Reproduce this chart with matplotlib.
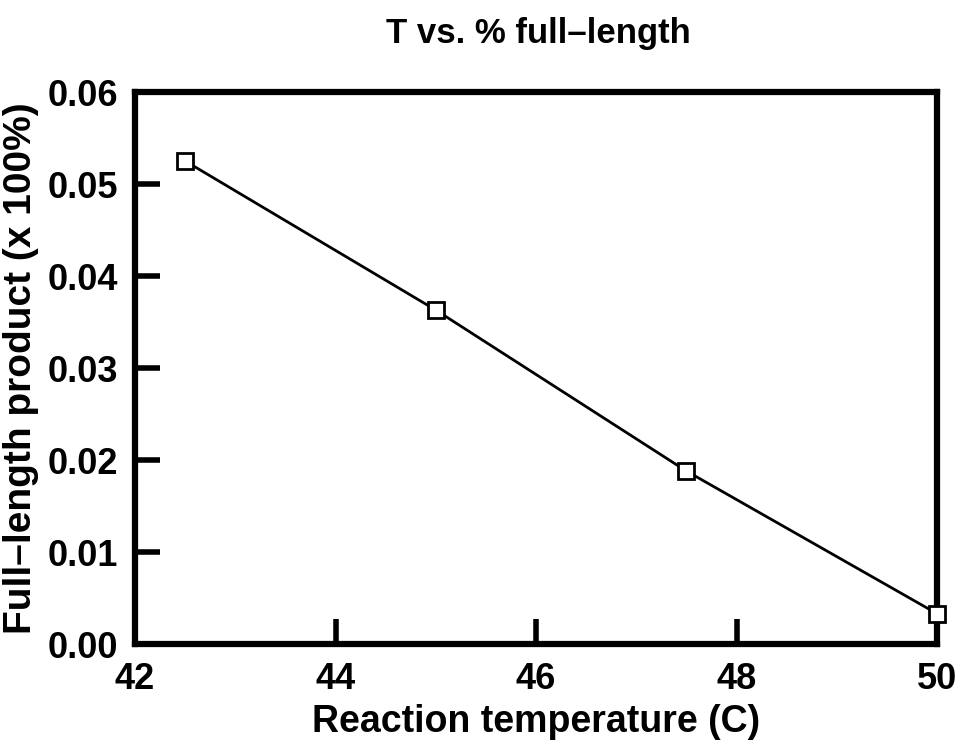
import matplotlib
matplotlib.use("Agg")
import matplotlib.pyplot as plt

temps = [42.5, 45.0, 47.5, 50.0]
full_length = [0.0525, 0.0363, 0.0188, 0.0033]
x_ticks = [42, 44, 46, 48, 50]
y_ticks = [0.00, 0.01, 0.02, 0.03, 0.04, 0.05, 0.06]

plt.rcParams['font.family'] = ['Liberation Sans', 'DejaVu Sans']
plt.rcParams['font.weight'] = 'bold'

fig = plt.figure(figsize=(9.59, 7.41), dpi=100)
ax = fig.add_axes([135 / 959, 1 - 644 / 741, 802 / 959, 552 / 741])

ax.plot(temps, full_length, color='black', linewidth=2, marker='s',
        markersize=11, markerfacecolor='white', markeredgecolor='black',
        markeredgewidth=2, clip_on=False, zorder=5)

ax.set_xlim(42, 50)
ax.set_ylim(0, 0.06)
ax.set_xticks(x_ticks)
ax.set_yticks(y_ticks)
ax.set_yticklabels(['%.2f' % v for v in y_ticks])
for s in ax.spines.values():
    s.set_linewidth(4.5)
ax.tick_params(direction='in', length=18, width=4, labelsize=26, pad=12)
ax.tick_params(axis='x', pad=13)

ax.set_xlabel('Reaction temperature (C)', fontsize=27, fontweight='bold', labelpad=5)
ax.set_ylabel('Full\u2013length product (x 100%)', fontsize=28, fontweight='bold')
ax.yaxis.set_label_coords(-96 / 802, 0.5)
fig.text(538 / 959, 1 - 34 / 741, 'T vs. % full\u2013length', ha='center', va='center',
         fontsize=25, fontweight='bold')

fig.savefig('out.png', dpi=100)
